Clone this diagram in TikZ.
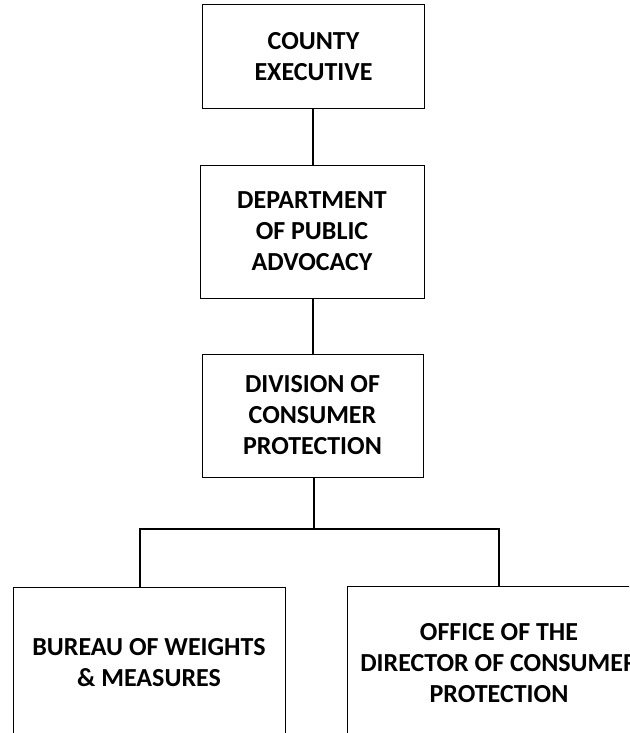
\documentclass[tikz,border=0pt]{standalone}
\usepackage{fontspec}
\setmainfont{Carlito}
\begin{document}
\begin{tikzpicture}[x=1pt,y=-1pt,
  orgbox/.style={draw=black, line width=1pt, fill=white, align=center,
    inner sep=0pt, font=\bfseries\fontsize{26}{31}\selectfont},
  link/.style={draw=black, line width=1.1pt}]
  \useasboundingbox (0,0) rectangle (629,733);
  \clip (0,0) rectangle (629,733);

  % Chain of command, top to bottom
  \node[orgbox, minimum width=222pt, minimum height=104pt] (ce)
    at (313.5,57) {COUNTY\\EXECUTIVE};
  \node[orgbox, minimum width=224pt, minimum height=133pt] (dpa)
    at (312,231.5) {DEPARTMENT\\OF PUBLIC\\ADVOCACY};
  \node[orgbox, minimum width=221pt, minimum height=123pt] (dcp)
    at (312.5,415.5) {DIVISION OF\\CONSUMER\\PROTECTION};

  % Two units under the division
  \node[orgbox, minimum width=272pt, minimum height=152pt] (bwm)
    at (149,663) {BUREAU OF WEIGHTS\\\& MEASURES};
  \node[orgbox, minimum width=304pt, minimum height=154pt] (odcp)
    at (499,663) {OFFICE OF THE\\DIRECTOR OF CONSUMER\\PROTECTION};

  % Branch points of the split
  \coordinate (jl) at (140,529);
  \coordinate (jr) at (499,529);

  \draw[link] (ce.south -| 313,0) -- (dpa.north -| 313,0);
  \draw[link] (dpa.south -| 313,0) -- (dcp.north -| 313,0);
  \draw[link] (dcp.south -| 314,0) -- (jl -| 314,0);
  \draw[link] (jl |- bwm.north) -- (jl) -- (jr) -- (odcp.north);
\end{tikzpicture}
\end{document}
